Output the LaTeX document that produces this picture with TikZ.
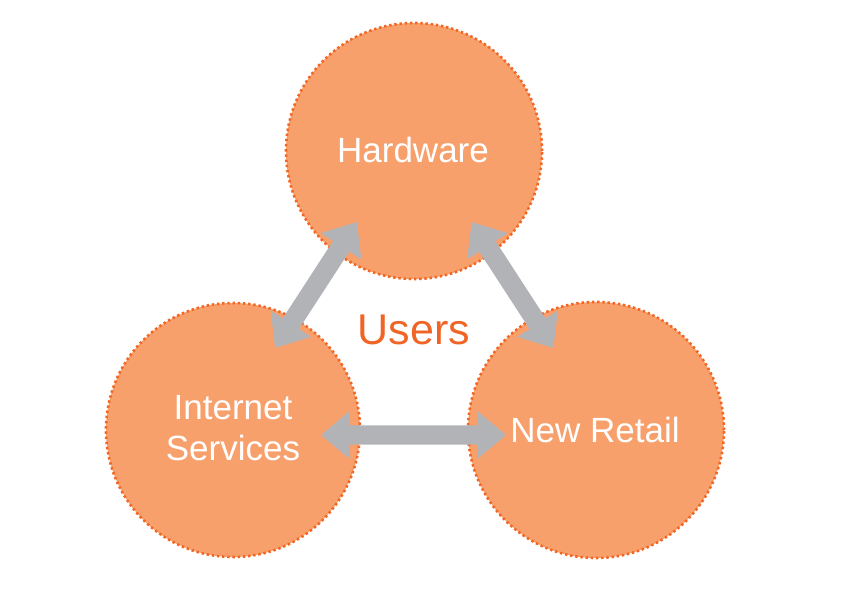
\documentclass[tikz,border=0pt]{standalone}
\usepackage{fontspec}
\setmainfont{Liberation Sans}
\usetikzlibrary{shapes.arrows}
\definecolor{peach}{RGB}{248,160,108}
\definecolor{dotorange}{RGB}{242,101,34}
\definecolor{usersorange}{RGB}{240,100,38}
\definecolor{arrowgray}{RGB}{178,179,183}
\begin{document}
\begin{tikzpicture}[x=1pt,y=1pt,
  bubble/.style={circle, fill=peach, draw=dotorange, line width=2.6pt,
    dash pattern=on 2.4pt off 2.8pt, inner sep=0pt, text=white,
    font=\fontsize{35}{41}\selectfont, align=center},
  link/.style={double arrow, fill=arrowgray, draw=none, inner xsep=0pt,
    inner ysep=9.5pt, double arrow head extend=14.5pt,
    double arrow tip angle=80, anchor=center}]
\useasboundingbox (0,0) rectangle (864,610);
\node[bubble, minimum size=256pt] (hw) at (414,459) {};
\node[bubble, minimum size=254pt] (is) at (233,180) {};
\node[bubble, minimum size=256pt] (nr) at (596,180) {};
\node[text=white, font=\fontsize{35}{41}\selectfont] (hwt) at (413,460) {Hardware};
\node[text=white, font=\fontsize{35}{41}\selectfont, align=center] (ist) at (233,182) {Internet\\Services};
\node[text=white, font=\fontsize{35}{41}\selectfont] (nrt) at (595,180) {New Retail};
\node[text=usersorange, font=\fontsize{43}{50}\selectfont] (users) at (414,280) {Users};
\node[link, minimum height=150pt, rotate=57] (a1) at (316,325) {};
\node[link, minimum height=150pt, rotate=-57] (a2) at (512.5,325) {};
\node[link, minimum height=185pt] (a3) at (413.5,175) {};
\end{tikzpicture}
\end{document}
